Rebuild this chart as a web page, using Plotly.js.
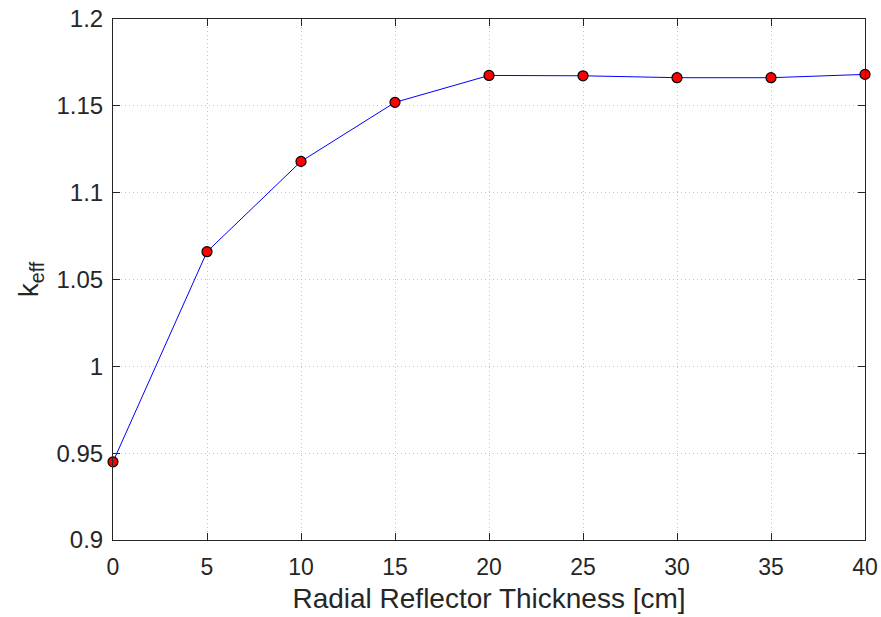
<!DOCTYPE html>
<html>
<head>
<meta charset="utf-8">
<script src="https://cdn.plot.ly/plotly-3.0.1.min.js"></script>
<style>html,body{margin:0;padding:0;background:#fff;}#chart{width:881px;height:617px;}</style>
</head>
<body>
<div id="chart"></div>
<script>
const thickness = [0, 5, 10, 15, 20, 25, 30, 35, 40];
const keff = [0.945, 1.066, 1.118, 1.152, 1.1675, 1.1673, 1.1662, 1.1662, 1.1681];
const xTicks = [0, 5, 10, 15, 20, 25, 30, 35, 40];
const yTicks = [0.9, 0.95, 1, 1.05, 1.1, 1.15, 1.2];
const yTickLabels = ['0.9', '0.95', '1', '1.05', '1.1', '1.15', '1.2'];

const FONT = 'Liberation Sans, Arial, Helvetica, sans-serif';
const trace = {
  x: thickness, y: keff, type: 'scatter', mode: 'lines+markers',
  line: {color: '#0000ff', width: 1},
  marker: {color: '#ff0000', size: 10, line: {color: '#000000', width: 1.2}},
  cliponaxis: false, showlegend: false
};
const axisCommon = {
  showline: true, linecolor: '#262626', linewidth: 1, mirror: 'ticks',
  ticks: 'inside', ticklen: 7, tickcolor: '#262626', tickwidth: 1,
  showgrid: true, gridcolor: '#c4c4c4', griddash: '1px,3px', gridwidth: 1,
  zeroline: false,
  tickfont: {family: FONT, size: 23, color: '#262626'}
};
const layout = {
  width: 881, height: 617,
  margin: {l: 113, r: 16, t: 19, b: 77},
  paper_bgcolor: '#fff', plot_bgcolor: '#fff',
  xaxis: Object.assign({}, axisCommon, {
    range: [0, 40], tickvals: xTicks, ticklabelstandoff: 6,
    title: {text: 'Radial Reflector Thickness [cm]', standoff: 9,
      font: {family: FONT, size: 28, color: '#262626'}}
  }),
  yaxis: Object.assign({}, axisCommon, {
    range: [0.9, 1.2], tickvals: yTicks, ticktext: yTickLabels, ticklabelstandoff: 4,
    tickfont: {family: FONT, size: 24, color: '#262626'},
    title: {text: 'k<sub>eff</sub>', standoff: 9,
      font: {family: FONT, size: 28, color: '#262626'}}
  })
};
Plotly.newPlot('chart', [trace], layout, {displayModeBar: false, staticPlot: true});
</script>
</body>
</html>
